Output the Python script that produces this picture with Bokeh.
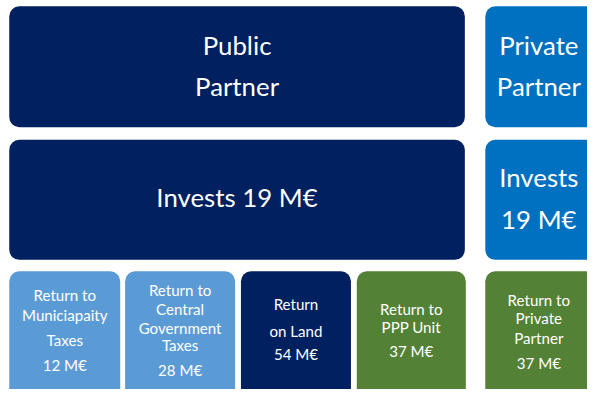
from bokeh.plotting import figure
from bokeh.models import Range1d
from bokeh.embed import file_html
from bokeh.resources import INLINE
from bokeh.core.properties import value

# ---- data ----
partners = [["Public", "Partner"], ["Private", "Partner"]]
invest_values = [19, 19]  # M€
return_lines = [
    ["Return to", "Municiapaity", "Taxes"],
    ["Return to", "Central", "Government", "Taxes"],
    ["Return", "on Land"],
    ["Return to", "PPP Unit"],
    ["Return to", "Private", "Partner"],
]
return_values = [12, 28, 54, 37, 37]  # M€

# ---- layout (in reference-picture units, 603 x 405) ----
NAVY = "#002060"
BLUE = "#0070C0"
LIGHT = "#5B9BD5"
GREEN = "#538135"

col_left = [9, 498]
col_right = [477, 612]
row_top = [6, 145, 282]
row_bot = [132, 270, 415]
ret_left = [9, 128, 247, 366, 498]
ret_right = [123, 241, 360, 478, 612]
ret_colors = [LIGHT, LIGHT, NAVY, GREEN, GREEN]
ret_line_y = [
    [307, 327, 353],
    [301, 321, 341, 359],
    [316, 344],
    [321, 340],
    [312, 331, 351],
]
ret_value_y = [380, 385, 368, 365, 377]

REF_W, REF_H = 603, 405
W, H = 587, 389
SCALE = W / REF_W

p = figure(width=W, height=H, output_backend="svg", toolbar_location=None,
           x_range=Range1d(0, REF_W), y_range=Range1d(REF_H, 0),
           x_axis_type=None, y_axis_type=None, min_border=0)
p.grid.visible = False
p.outline_line_color = None
p.background_fill_color = "white"
p.border_fill_color = "white"

FONT = value("Lato")

# partner boxes (rows 1 and 2)
col_colors = [NAVY, BLUE]
for r in range(2):
    p.quad(left=col_left, right=col_right, top=[row_top[r]] * 2, bottom=[row_bot[r]] * 2,
           fill_color=col_colors, line_color=None, border_radius=10)

# return boxes
p.quad(left=ret_left, right=ret_right, top=[row_top[2]] * 5, bottom=[row_bot[2]] * 5,
       fill_color=ret_colors, line_color=None, border_radius=10)

def cx(l, r):
    return (l + r) / 2.0

PRIV_CX = 553

# partner names
tx, ty, tt = [], [], []
for i, lines in enumerate(partners):
    for line, y in zip(lines, [46, 89]):
        tx.append(cx(col_left[0], col_right[0]) if i == 0 else PRIV_CX)
        ty.append(y)
        tt.append(line)
# invests
tx.append(cx(col_left[0], col_right[0])); ty.append(205); tt.append(f"Invests {invest_values[0]} M€")
tx.append(PRIV_CX); ty.append(184); tt.append("Invests")
tx.append(PRIV_CX); ty.append(227); tt.append(f"{invest_values[1]} M€")

p.text(x=tx, y=ty, text=tt, text_color="white", text_font=FONT,
       text_font_size=f"{26.5 * SCALE:.1f}px",
       text_align="center", text_baseline="middle")

bx, by, bt = [], [], []
for i, lines in enumerate(return_lines):
    c = cx(ret_left[i], ret_right[i]) if i < 4 else PRIV_CX
    for line, y in zip(lines, ret_line_y[i]):
        bx.append(c); by.append(y); bt.append(line)
    bx.append(c); by.append(ret_value_y[i]); bt.append(f"{return_values[i]} M€")

p.text(x=bx, y=by, text=bt, text_color="white", text_font=FONT,
       text_font_size=f"{15.5 * SCALE:.1f}px",
       text_align="center", text_baseline="middle")

open("out.html", "w").write(file_html(p, INLINE))
